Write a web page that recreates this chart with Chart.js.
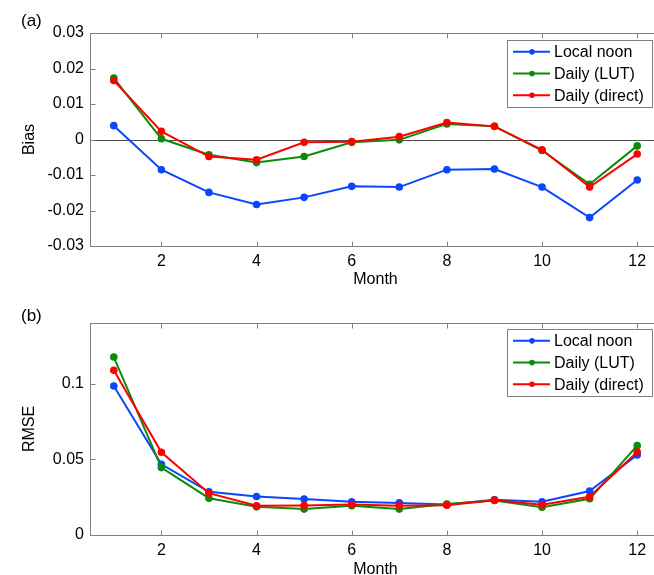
<!DOCTYPE html>
<html>
<head>
<meta charset="utf-8">
<script src="https://cdn.jsdelivr.net/npm/chart.js@4.4.1/dist/chart.umd.min.js"></script>
<style>
  html, body { margin: 0; padding: 0; background: #fff; overflow: hidden; }
  #wrap { position: relative; width: 654px; height: 575px; overflow: hidden; background: #fff; }
  .panel { position: absolute; left: 0; width: 670px; height: 290px; }
  #p1 { top: 0; }
  #p2 { top: 290px; }
</style>
</head>
<body>
<div id="wrap">
  <div class="panel" id="p1"><canvas id="c1" width="670" height="290"></canvas></div>
  <div class="panel" id="p2"><canvas id="c2" width="670" height="290"></canvas></div>
</div>
<script>
// ---- data ----
const months = [1, 2, 3, 4, 5, 6, 7, 8, 9, 10, 11, 12];
const seriesNames = ['Local noon', 'Daily (LUT)', 'Daily (direct)'];

const biasNoon   = [0.0039, -0.0085, -0.0149, -0.0183, -0.0163, -0.0132, -0.0134, -0.0085, -0.0083, -0.0134, -0.0220, -0.0114];
const biasLUT    = [0.0173,  0.0002, -0.0043, -0.0065, -0.0048, -0.0008, -0.0001,  0.0044,  0.0037, -0.0031, -0.0126, -0.0018];
const biasDirect = [0.0166,  0.0023, -0.0048, -0.0057, -0.0008, -0.0006,  0.0008,  0.0048,  0.0037, -0.0029, -0.0134, -0.0041];

const rmseNoon   = [0.0984, 0.0467, 0.0285, 0.0254, 0.0237, 0.0219, 0.0212, 0.0201, 0.0232, 0.0219, 0.0290, 0.0528];
const rmseLUT    = [0.1175, 0.0445, 0.0243, 0.0186, 0.0171, 0.0193, 0.0171, 0.0204, 0.0228, 0.0184, 0.0239, 0.0590];
const rmseDirect = [0.1088, 0.0546, 0.0276, 0.0193, 0.0195, 0.0201, 0.0193, 0.0197, 0.0230, 0.0200, 0.0252, 0.0548];

const monthTicks = [2, 4, 6, 8, 10, 12];
const biasTicks  = [-0.03, -0.02, -0.01, 0, 0.01, 0.02, 0.03];
const rmseTicks  = [0, 0.05, 0.1];

// ---- styles ----
const COLORS = ['#0a46ff', '#0a8c0a', '#ff0000'];
const FONT = { family: "'Liberation Sans', Arial, sans-serif", size: 16 };
const FRAME = '#808080';

function pts(arr) { return months.map((m, i) => ({ x: m, y: arr[i] })); }

function makeDatasets(arrs) {
  return arrs.map((a, i) => ({
    label: seriesNames[i],
    data: pts(a),
    borderColor: COLORS[i],
    backgroundColor: COLORS[i],
    borderWidth: 2,
    pointRadius: 3.8,
    pointHoverRadius: 3.8,
    pointBorderWidth: 0,
    tension: 0,
    order: 3 - i
  }));
}

// frame, inside ticks, zero line, legend, panel label
const decorPlugin = {
  id: 'decor',
  beforeDatasetsDraw(chart, args, opts) {
    const { ctx, chartArea: a, scales: { y } } = chart;
    ctx.save();
    if (opts.zeroLine) {
      const py = Math.round(y.getPixelForValue(0)) + 0.5;
      ctx.strokeStyle = '#505050';
      ctx.lineWidth = 1;
      ctx.beginPath(); ctx.moveTo(a.left, py); ctx.lineTo(a.right, py); ctx.stroke();
    }
    ctx.restore();
  },
  afterDatasetsDraw(chart, args, opts) {
    const { ctx, chartArea: a, scales: { x, y } } = chart;
    ctx.save();
    ctx.strokeStyle = FRAME;
    ctx.lineWidth = 1;
    const L = Math.round(a.left) + 0.5, R = Math.round(a.right) + 0.5;
    const T = Math.round(a.top) + 0.5, B = Math.round(a.bottom) + 0.5;
    ctx.strokeRect(L, T, R - L, B - T);
    const tl = 5;
    ctx.beginPath();
    x.ticks.forEach(t => {
      const px = Math.round(x.getPixelForValue(t.value)) + 0.5;
      ctx.moveTo(px, B); ctx.lineTo(px, B - tl);
      ctx.moveTo(px, T); ctx.lineTo(px, T + tl);
    });
    y.ticks.forEach(t => {
      const py = Math.round(y.getPixelForValue(t.value)) + 0.5;
      ctx.moveTo(L, py); ctx.lineTo(L + tl, py);
      ctx.moveTo(R, py); ctx.lineTo(R - tl, py);
    });
    ctx.stroke();

    // legend
    const lg = opts.legend;
    const bx = lg.left, by = a.top + lg.topOffset, bw = lg.width, rh = lg.rowHeight;
    const bh = rh * chart.data.datasets.length + lg.pad * 2;
    ctx.fillStyle = '#fff';
    ctx.fillRect(bx, by, bw, bh);
    ctx.strokeStyle = FRAME;
    ctx.strokeRect(Math.round(bx) + 0.5, Math.round(by) + 0.5, Math.round(bw), Math.round(bh));
    ctx.font = FONT.size + 'px ' + FONT.family;
    ctx.textBaseline = 'middle';
    ctx.textAlign = 'left';
    chart.data.datasets.forEach((ds, i) => {
      const cy = by + lg.pad + rh * (i + 0.5);
      ctx.strokeStyle = ds.borderColor;
      ctx.lineWidth = 2;
      ctx.beginPath(); ctx.moveTo(bx + 6, cy); ctx.lineTo(bx + 43, cy); ctx.stroke();
      ctx.fillStyle = ds.borderColor;
      ctx.beginPath(); ctx.arc(bx + 25, cy, 2.8, 0, Math.PI * 2); ctx.fill();
      ctx.fillStyle = '#000';
      ctx.fillText(ds.label, bx + 47, cy + 1);
    });

    // panel label
    ctx.fillStyle = '#000';
    ctx.font = '17px ' + FONT.family;
    ctx.textAlign = 'left';
    ctx.textBaseline = 'middle';
    ctx.fillText(opts.panel, 21, opts.panelY);
    ctx.restore();
  }
};

function makeChart(id, datasets, yTicks, yMin, yMax, yTitle, panel, panelY, zeroLine, xHeight, legendTop) {
  return new Chart(document.getElementById(id), {
    type: 'line',
    data: { datasets },
    plugins: [decorPlugin],
    options: {
      responsive: false,
      animation: false,
      events: [],
      layout: { padding: { left: 0, top: 33, right: 9, bottom: 0 } },
      plugins: {
        legend: { display: false },
        tooltip: { enabled: false },
        decor: {
          zeroLine, panel, panelY,
          legend: { left: 507, width: 145, topOffset: legendTop, rowHeight: 21.7, pad: 1 }
        }
      },
      scales: {
        x: {
          type: 'linear', min: 0.5, max: 12.5,
          grid: { display: false, drawTicks: false },
          border: { display: false },
          afterBuildTicks: s => { s.ticks = monthTicks.map(v => ({ value: v })); },
          afterFit: s => { s.height = xHeight; },
          ticks: { font: FONT, color: '#000', padding: 6, maxRotation: 0, autoSkip: false,
                   callback: v => String(v) },
          title: { display: true, text: 'Month', font: FONT, color: '#000', padding: { top: 0, bottom: 1 } }
        },
        y: {
          type: 'linear', min: yMin, max: yMax,
          grid: { display: false, drawTicks: false },
          border: { display: false },
          afterBuildTicks: s => { s.ticks = yTicks.map(v => ({ value: v })); },
          afterFit: s => { s.width = 90; },
          ticks: { font: FONT, color: '#000', padding: 6, autoSkip: false,
                   callback: v => String(v) },
          title: { display: true, text: yTitle, font: FONT, color: '#000', padding: { top: 20, bottom: 0 } }
        }
      }
    }
  });
}

makeChart('c1', makeDatasets([biasNoon, biasLUT, biasDirect]), biasTicks, -0.03, 0.03, 'Bias', '(a)', 21, true, 44, 7);
makeChart('c2', makeDatasets([rmseNoon, rmseLUT, rmseDirect]), rmseTicks, 0, 0.14, 'RMSE', '(b)', 26, false, 45, 6);
</script>
</body>
</html>
